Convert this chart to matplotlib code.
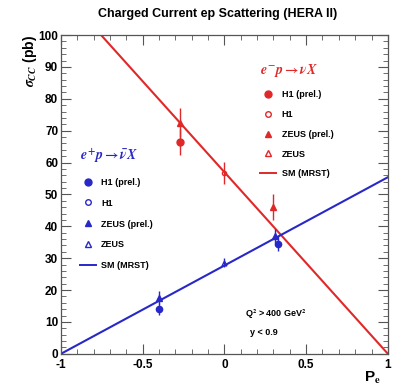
import matplotlib.pyplot as plt
from matplotlib.lines import Line2D
from matplotlib.ticker import MultipleLocator

plt.rcParams['font.family'] = 'Liberation Sans'
plt.rcParams['font.weight'] = 'bold'
plt.rcParams['mathtext.fontset'] = 'stix'

RED = '#e02828'
BLUE = '#2828c8'

# SM (MRST) predictions, linear in P_e
sm_P = [-1.0, 1.0]
sm_em = [114.0, 0.0]
sm_ep = [0.0, 55.4]

# e- p data
em_h1p_P = [-0.27]
em_h1p_y = [66.5]
em_h1p_err = [4.0]
em_zeusp_P = [-0.27, 0.30]
em_zeusp_y = [72.5, 46.0]
em_zeusp_err = [4.5, 4.0]
em_h1_P = [0.0]
em_h1_y = [56.8]
em_h1_err = [3.5]

# e+ p data
ep_h1p_P = [-0.40, 0.33]
ep_h1p_y = [14.0, 34.6]
ep_h1p_err = [1.8, 2.5]
ep_zeusp_P = [-0.40, 0.31]
ep_zeusp_y = [17.6, 37.0]
ep_zeusp_err = [2.0, 2.2]
ep_zeus_P = [0.0]
ep_zeus_y = [28.6]
ep_zeus_err = [1.5]

fig = plt.figure(figsize=(3.93, 3.85), dpi=100)
ax = fig.add_axes([0.155, 0.081, 0.832, 0.828])

ax.plot(sm_P, sm_em, color=RED, lw=1.5, zorder=2)
ax.plot(sm_P, sm_ep, color=BLUE, lw=1.5, zorder=2)

ekw = dict(ls='none', elinewidth=1.0, capsize=0, zorder=3)
ax.errorbar(em_h1p_P, em_h1p_y, yerr=em_h1p_err, fmt='o', ms=5, color=RED, **ekw)
ax.errorbar(em_zeusp_P, em_zeusp_y, yerr=em_zeusp_err, fmt='^', ms=5, color=RED, **ekw)
ax.errorbar(em_h1_P, em_h1_y, yerr=em_h1_err, fmt='o', ms=3, mfc='none', color=RED, **ekw)
ax.errorbar(ep_h1p_P, ep_h1p_y, yerr=ep_h1p_err, fmt='o', ms=4.5, color=BLUE, **ekw)
ax.errorbar(ep_zeusp_P, ep_zeusp_y, yerr=ep_zeusp_err, fmt='^', ms=4.5, color=BLUE, **ekw)
ax.errorbar(ep_zeus_P, ep_zeus_y, yerr=ep_zeus_err, fmt='^', ms=3.5, mfc='none', color=BLUE, **ekw)

ax.set_xlim(-1, 1)
ax.set_ylim(0, 100)
ax.xaxis.set_major_locator(MultipleLocator(0.5))
ax.xaxis.set_minor_locator(MultipleLocator(0.1))
ax.yaxis.set_major_locator(MultipleLocator(10))
ax.yaxis.set_minor_locator(MultipleLocator(2))
ax.set_xticks([-1, -0.5, 0, 0.5, 1])
ax.set_xticklabels(['-1', '-0.5', '0', '0.5', '1'])
ax.tick_params(which='both', direction='in', top=True, right=True, labelsize=8.5, color='#555555')
ax.tick_params(axis='y', pad=2)
ax.tick_params(axis='x', pad=4)
ax.tick_params(which='major', length=7)
ax.tick_params(which='minor', length=3.5)
for s in ax.spines.values():
    s.set_color('#555555')
    s.set_linewidth(0.9)

fig.text(0.555, 0.963, 'Charged Current ep Scattering (HERA II)', ha='center', va='center', fontsize=9)
fig.text(0.077, 0.91, r'$\sigma_{CC}$ (pb)', rotation=90, ha='center', va='top', fontsize=10)
fig.text(0.948, 0.018, r'P$_{\rm e}$', ha='center', va='center', fontsize=11)

ax.text(0.563, 0.117, r'Q$^2$ > 400 GeV$^2$', transform=ax.transAxes, fontsize=6.5)
ax.text(0.578, 0.058, 'y < 0.9', transform=ax.transAxes, fontsize=6.5)


def make_legend(color, title, anchor, spacing):
    handles = [
        Line2D([], [], ls='none', marker='o', ms=5, color=color),
        Line2D([], [], ls='none', marker='o', ms=4, mfc='none', color=color),
        Line2D([], [], ls='none', marker='^', ms=5, color=color),
        Line2D([], [], ls='none', marker='^', ms=4, mfc='none', color=color),
        Line2D([], [], color=color, lw=1.4),
    ]
    labels = ['H1 (prel.)', 'H1', 'ZEUS (prel.)', 'ZEUS', 'SM (MRST)']
    leg = ax.legend(handles, labels, loc='upper left', bbox_to_anchor=anchor, frameon=False,
                    fontsize=6.5, title=title, title_fontsize=10, labelspacing=spacing,
                    handlelength=1.8, handletextpad=0.6, alignment='left')
    leg.get_title().set_color(color)
    return leg


leg1 = make_legend(RED, r'$e^{-}p \rightarrow \nu X$', (0.584, 0.94), 1.2)
ax.add_artist(leg1)
make_legend(BLUE, r'$e^{+}p \rightarrow \bar{\nu} X$', (0.032, 0.675), 1.32)

fig.savefig('out.png', dpi=100)
